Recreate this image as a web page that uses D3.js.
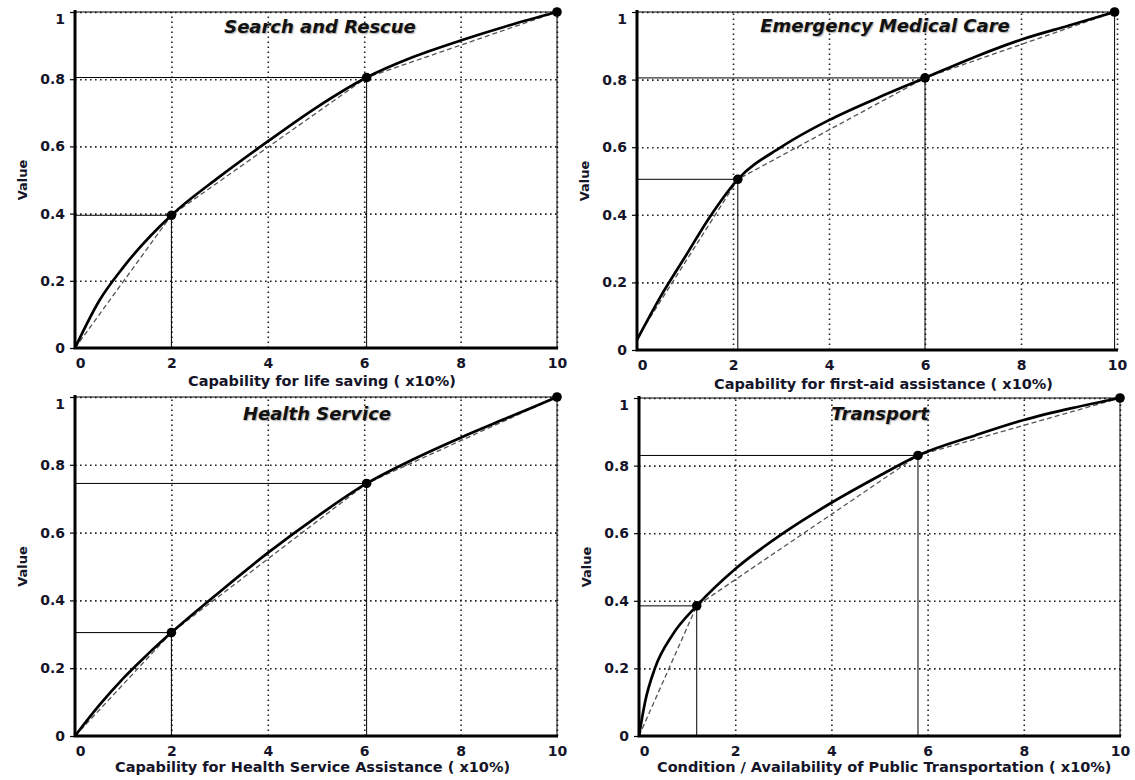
<!DOCTYPE html>
<html>
<head>
<meta charset="utf-8">
<script src="https://cdn.jsdelivr.net/npm/d3@7"></script>
<style>
  body { margin: 0; background: #fff; }
  svg { display: block; }
  .tick text { font-family: "DejaVu Sans"; font-weight: bold; font-size: 14px; fill: #15152a; }
  .grid line { stroke: #222; stroke-width: 1.6; stroke-dasharray: 1.6, 3.4; }
  .grid .domain { display: none; }
  .title { font-family: "DejaVu Sans"; font-weight: bold; font-style: italic; font-size: 18px; fill: #111;
           text-shadow: 1px 1px 1.5px rgba(0,0,0,0.35); }
  .xtitle { font-family: "DejaVu Sans"; font-weight: bold; font-size: 14.5px; fill: #15152a; }
  .ytitle { font-family: "DejaVu Sans"; font-weight: bold; font-size: 13px; fill: #15152a; }
</style>
</head>
<body>
<svg id="chart" width="1135" height="780"></svg>
<script>
const xTicks = [0, 2, 4, 6, 8, 10];
const yTicks = [0, 0.2, 0.4, 0.6, 0.8, 1];
const yTickLabels = ['0', '0.2', '0.4', '0.6', '0.8', '1'];

const titles = ['Search and Rescue', 'Emergency Medical Care', 'Health Service', 'Transport'];
const xTitles = [
  'Capability for life saving ( x10%)',
  'Capability for first-aid assistance ( x10%)',
  'Capability for Health Service Assistance ( x10%)',
  'Condition / Availability of Public Transportation ( x10%)'
];

// marked points (black dots)
const searchPtsX = [2, 6.05, 10];
const searchPtsY = [0.395, 0.805, 1];
const medicalPtsX = [2.1, 6, 9.95];
const medicalPtsY = [0.505, 0.805, 1];
const healthPtsX = [2, 6.05, 10];
const healthPtsY = [0.305, 0.745, 1];
const transportPtsX = [1.2, 5.8, 10];
const transportPtsY = [0.385, 0.83, 1];

// where the dashed broken line starts on the y axis
const dashStartY = [0, 0.035, 0, 0];

// solid curves
const searchCurveX = [0, 0.5, 1, 2, 3, 4, 5, 6.05, 7, 8, 9, 10];
const searchCurveY = [0, 0.14, 0.24, 0.395, 0.51, 0.615, 0.715, 0.805, 0.865, 0.915, 0.96, 1];
const medicalCurveX = [0, 0.5, 1, 1.5, 2.1, 3, 4, 5, 6, 7, 8, 9, 9.95];
const medicalCurveY = [0.03, 0.16, 0.275, 0.39, 0.505, 0.6, 0.68, 0.745, 0.805, 0.865, 0.918, 0.96, 1];
const healthCurveX = [0, 0.5, 1, 1.5, 2, 3, 4, 5, 6.05, 7, 8, 9, 10];
const healthCurveY = [0, 0.09, 0.17, 0.24, 0.305, 0.425, 0.54, 0.645, 0.745, 0.815, 0.88, 0.94, 1];
const transportCurveX = [0, 0.125, 0.33, 0.7, 1.2, 2, 3, 4, 5, 5.8, 7, 8, 9, 10];
const transportCurveY = [0, 0.1, 0.2, 0.3, 0.385, 0.494, 0.6, 0.69, 0.77, 0.83, 0.89, 0.935, 0.97, 1];

// panel boxes in page pixels
const layout = [
  { x0: 75,  x1: 557,  yt: 12,  yb: 348, titleX: 320, titleY: 33,  xtX: 188, xtY: 386 },
  { x0: 637, x1: 1117, yt: 12,  yb: 350, titleX: 885, titleY: 32,  xtX: 714, xtY: 389 },
  { x0: 75,  x1: 557,  yt: 397, yb: 736, titleX: 317, titleY: 420, xtX: 115, xtY: 772 },
  { x0: 639, x1: 1120, yt: 398, yb: 736, titleX: 880, titleY: 420, xtX: 657, xtY: 772 }
];

const ptsX = [searchPtsX, medicalPtsX, healthPtsX, transportPtsX];
const ptsY = [searchPtsY, medicalPtsY, healthPtsY, transportPtsY];
const curveX = [searchCurveX, medicalCurveX, healthCurveX, transportCurveX];
const curveY = [searchCurveY, medicalCurveY, healthCurveY, transportCurveY];

const svg = d3.select('#chart');

layout.forEach((p, i) => {
  const x = d3.scaleLinear().domain([0, 10]).range([p.x0, p.x1]);
  const y = d3.scaleLinear().domain([0, 1]).range([p.yb, p.yt]);
  const g = svg.append('g');

  // dotted grid
  g.append('g')
    .attr('class', 'grid')
    .attr('transform', 'translate(0,' + p.yb + ')')
    .call(d3.axisBottom(x).tickValues(xTicks.slice(1)).tickSize(-(p.yb - p.yt)).tickFormat(''));
  g.append('g')
    .attr('class', 'grid')
    .attr('transform', 'translate(' + p.x0 + ',0)')
    .call(d3.axisLeft(y).tickValues(yTicks.slice(1)).tickSize(-(p.x1 - p.x0)).tickFormat(''));

  // tick labels
  const ax = g.append('g')
    .attr('transform', 'translate(0,' + p.yb + ')')
    .call(d3.axisBottom(x).tickValues(xTicks).tickSize(0).tickPadding(10).tickFormat(d3.format('d')));
  ax.select('.domain').remove();
  ax.selectAll('.tick').filter(d => d === 0).select('text').attr('dx', 5);

  const ay = g.append('g')
    .attr('transform', 'translate(' + p.x0 + ',0)')
    .call(d3.axisLeft(y).tickValues(yTicks).tickSize(5).tickPadding(5)
      .tickFormat((d, k) => yTickLabels[k]));
  ay.select('.domain').remove();
  ay.selectAll('.tick line').attr('stroke', '#000').attr('stroke-width', 1.2);
  ay.selectAll('.tick').filter(d => d === 1).select('text').attr('dy', '0.85em');

  // drop lines from the marked points
  const pts = ptsX[i].map((v, k) => ({ x: v, y: ptsY[i][k] }));
  g.selectAll('.hline').data(pts).enter().append('line')
    .attr('x1', p.x0).attr('x2', d => x(d.x))
    .attr('y1', d => y(d.y)).attr('y2', d => y(d.y))
    .attr('stroke', '#000').attr('stroke-width', 1);
  g.selectAll('.vline').data(pts).enter().append('line')
    .attr('x1', d => x(d.x)).attr('x2', d => x(d.x))
    .attr('y1', d => y(d.y)).attr('y2', p.yb)
    .attr('stroke', '#000').attr('stroke-width', 1);

  // dashed broken line through the points
  const dash = [{ x: 0, y: dashStartY[i] }].concat(pts);
  g.append('path')
    .datum(dash)
    .attr('fill', 'none')
    .attr('stroke', '#555')
    .attr('stroke-width', 1.3)
    .attr('stroke-dasharray', '5,3')
    .attr('d', d3.line().x(d => x(d.x)).y(d => y(d.y)));

  // solid curve
  const curve = curveX[i].map((v, k) => ({ x: v, y: curveY[i][k] }));
  g.append('path')
    .datum(curve)
    .attr('fill', 'none')
    .attr('stroke', '#000')
    .attr('stroke-width', 2.7)
    .attr('d', d3.line().curve(d3.curveMonotoneX).x(d => x(d.x)).y(d => y(d.y)));

  // heavy axis lines
  g.append('path')
    .attr('d', 'M' + p.x0 + ',' + (p.yt - 2) + 'V' + p.yb + 'H' + (p.x1 + 1))
    .attr('fill', 'none')
    .attr('stroke', '#000')
    .attr('stroke-width', 3);

  g.selectAll('.dot').data(pts).enter().append('circle')
    .attr('cx', d => x(d.x)).attr('cy', d => y(d.y))
    .attr('r', 4.8).attr('fill', '#000');

  // texts
  g.append('text').attr('class', 'title')
    .attr('x', p.titleX).attr('y', p.titleY)
    .attr('text-anchor', 'middle').text(titles[i]);
  g.append('text').attr('class', 'xtitle')
    .attr('x', p.xtX).attr('y', p.xtY)
    .text(xTitles[i]);
  g.append('text').attr('class', 'ytitle')
    .attr('transform', 'translate(' + (p.x0 - 48) + ',' + ((p.yt + p.yb) / 2) + ') rotate(-90)')
    .attr('text-anchor', 'middle').text('Value');
});
</script>
</body>
</html>
